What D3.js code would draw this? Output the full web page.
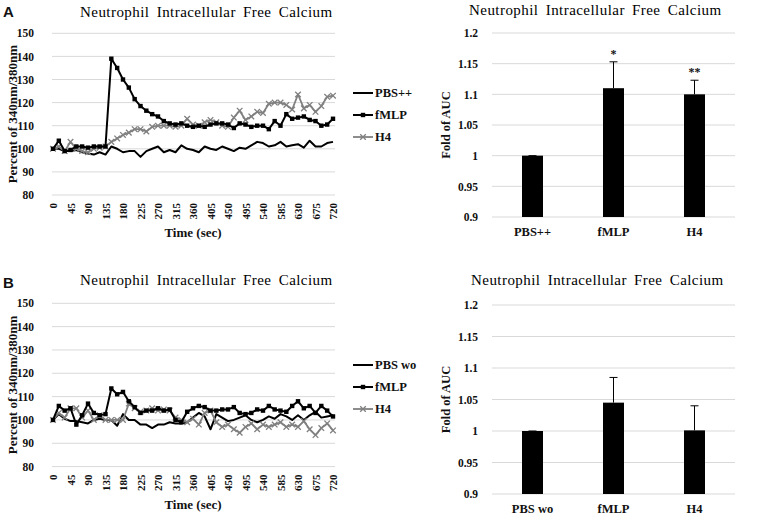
<!DOCTYPE html>
<html><head><meta charset="utf-8">
<script src="https://cdn.jsdelivr.net/npm/d3@7"></script>
<style>body{margin:0;background:#fff}svg{display:block}</style>
</head><body><svg id="c" width="763" height="519"></svg>
<script>
const times = [0,15,30,45,60,75,90,105,120,135,150,165,180,195,210,225,240,255,270,285,300,315,330,345,360,375,390,405,420,435,450,465,480,495,510,525,540,555,570,585,600,615,630,645,660,675,690,705,720];
const timeTickLabels = [0,45,90,135,180,225,270,315,360,405,450,495,540,585,630,675,720];
const lineYTicks = [80,90,100,110,120,130,140,150];

const seriesNamesA = ["PBS++","fMLP","H4"];
const pbsA  = [100,100,99,99,99.5,98.5,98,97.5,98.5,97.5,101,100,98.5,99,99,96.5,99,100,101,98.5,99.5,98.5,101.5,100,99.5,98.5,101,100,99.5,101,100,99,100.5,100,101.5,103,102.5,101,101.5,103,101,101.5,102,100.5,103.5,101,101,102.5,103];
const fmlpA = [100,103.5,99,99.5,101,101,100.5,101,101,101,139,135,130,126.5,121.5,118.5,116.5,115,114,112,111,110.5,111,110,109.5,110,109.5,110.5,111,111,110.5,109,111,110.5,109.5,110,110,108.5,112,110,115,113,113.5,114,112.5,112,110,110.5,113];
const h4A   = [100,101,99,103,100,99,98.5,100,100.5,101,103,104.5,106,107,108.5,108.5,107.5,109.5,110,110,110,109.5,110,113,110.5,110,111.5,112.5,111.5,110,109.5,113.5,116.5,112.5,114,116,115.5,119.5,120,120,119,117,123.5,117.5,119,116,118.5,122.5,123];

const seriesNamesB = ["PBS wo","fMLP","H4"];
const pbsB  = [100,102.5,100.5,99.5,99.5,99,98.5,100,100.5,100,100,97.5,102.5,100,100,98,98,96.5,98,98,99,98.5,98.5,99,101,103,101.5,96,102.5,101,99.5,100,101,102,100,99,100,101.5,100.5,102.5,101.5,100,102,100,102,103.5,101,101.5,102];
const fmlpB = [100,106,104,105,98,102,107,103,102,102.5,113.5,111,112,108,105.5,103,104,104,105,104,104.5,100,99,103.5,105,106,105.5,104,104,104.5,104.5,105.5,103,102.5,103,104.5,104,106,104.5,104,103.5,106,108,105,106,103,106,104,101.5];
const h4B   = [100,103,101,105,105,101,104,100,102,100,100,100,100,107,105,103.5,104,105,104,104.5,104,101,100,99,100.5,98,103,104,99,97,98,96,94.5,97,98.5,96,98,97,98,99,97,98,97,99.5,96,93.5,96.5,98.5,95.5];

const barYTicks = [0.9,0.95,1,1.05,1.1,1.15,1.2];
const barCatsA = ["PBS++","fMLP","H4"];
const barValsA = [1.0,1.11,1.10];
const barErrA  = [0.0,0.043,0.023];
const barSigA  = ["","*","**"];
const barCatsB = ["PBS wo","fMLP","H4"];
const barValsB = [1.0,1.045,1.001];
const barErrB  = [0.0,0.04,0.039];
const barSigB  = ["","",""];

const chartTitle = "Neutrophil Intracellular Free Calcium";
const svg = d3.select("#c");
const serif = "'Liberation Serif','Times New Roman',serif";
const GRID = "#d9d9d9";

function drawLine(o){
  const g = svg.append("g");
  const x = d3.scalePoint().domain(times).range([o.left, o.right]);
  const y = d3.scaleLinear().domain([80,150]).range([o.bottom, o.top]);
  g.selectAll("line.grid").data(lineYTicks).join("line")
    .attr("x1", o.left-1).attr("x2", o.right+2)
    .attr("y1", d=>y(d)).attr("y2", d=>y(d))
    .attr("stroke", GRID).attr("stroke-width",1);
  const ya = d3.axisLeft(y).tickValues(lineYTicks).tickSize(0).tickPadding(0);
  const yg = g.append("g").attr("transform",`translate(${o.left-19},0)`).call(ya);
  yg.select(".domain").remove();
  yg.selectAll("text").attr("font-family",serif).attr("font-weight","bold").attr("font-size","11.5px").attr("fill","#111");
  const xa = d3.axisBottom(x).tickValues(timeTickLabels).tickSize(0).tickPadding(0);
  const xg = g.append("g").attr("transform",`translate(0,${o.bottom+8})`).call(xa);
  xg.select(".domain").remove();
  xg.selectAll("text").attr("font-family",serif).attr("font-weight","bold").attr("font-size","11px").attr("fill","#111")
    .attr("transform","rotate(-90)").attr("text-anchor","end").attr("dy","0.35em").attr("dx","0").attr("y",0).attr("x",0);
  const mk = (arr)=>arr.map((v,i)=>({t:times[i],v}));
  const ln = d3.line().x(d=>x(d.t)).y(d=>y(d.v));
  const sers = [
    {name:o.names[0], data:mk(o.pbs), color:"#000", w:2, marker:null},
    {name:o.names[1], data:mk(o.fmlp), color:"#000", w:2, marker:"sq"},
    {name:o.names[2], data:mk(o.h4), color:"#808080", w:1.8, marker:"x"}
  ];
  [sers[0], sers[2], sers[1]].forEach(s=>{
    g.append("path").datum(s.data).attr("d",ln).attr("fill","none").attr("stroke",s.color).attr("stroke-width",s.w).attr("stroke-linejoin","round");
    if(s.marker==="sq"){
      g.selectAll(null).data(s.data).join("rect").attr("x",d=>x(d.t)-2.2).attr("y",d=>y(d.v)-2.2).attr("width",4.4).attr("height",4.4).attr("fill","#000");
    } else if(s.marker==="x"){
      g.selectAll(null).data(s.data).join("path").attr("d",d=>{const cx=x(d.t),cy=y(d.v),r=2.8;return `M${cx-r},${cy-r}L${cx+r},${cy+r}M${cx-r},${cy+r}L${cx+r},${cy-r}`;})
        .attr("stroke",s.color).attr("stroke-width",1.3).attr("fill","none");
    }
  });
  g.append("text").attr("x",(o.left+o.right)/2).attr("y",o.bottom+42).attr("text-anchor","middle")
    .attr("font-family",serif).attr("font-weight","bold").attr("font-size","13px").attr("fill","#111").text("Time (sec)");
  g.append("text").attr("transform",`translate(${o.left-41},${(o.top+o.bottom)/2}) rotate(-90)`).attr("text-anchor","middle").attr("dy","0.35em")
    .attr("font-family",serif).attr("font-weight","bold").attr("font-size","13px").attr("fill","#111").text("Percent of 340nm/380nm");
  g.append("text").attr("x",o.titleX).attr("y",o.titleY).attr("font-family",serif).attr("font-size","15px")
    .attr("letter-spacing","0.45px").attr("word-spacing","3px").attr("fill","#000").text(chartTitle);
  sers.forEach((s,i)=>{
    const ly = o.legY + i*22, lx0 = o.right+20, lx1 = o.right+40;
    g.append("line").attr("x1",lx0).attr("x2",lx1).attr("y1",ly).attr("y2",ly).attr("stroke",s.color).attr("stroke-width",s.w);
    const cx=(lx0+lx1)/2;
    if(s.marker==="sq") g.append("rect").attr("x",cx-2.2).attr("y",ly-2.2).attr("width",4.4).attr("height",4.4).attr("fill","#000");
    if(s.marker==="x") g.append("path").attr("d",`M${cx-2.8},${ly-2.8}L${cx+2.8},${ly+2.8}M${cx-2.8},${ly+2.8}L${cx+2.8},${ly-2.8}`).attr("stroke",s.color).attr("stroke-width",1.3);
    g.append("text").attr("x",lx1+2).attr("y",ly).attr("dy","0.35em").attr("font-family",serif).attr("font-weight","bold").attr("font-size","12.5px").attr("fill","#111").text(s.name);
  });
}

function drawBar(o){
  const g = svg.append("g");
  const x = d3.scaleBand().domain(o.cats).range([o.left,o.right]);
  const y = d3.scaleLinear().domain([0.9,1.2]).range([o.bottom,o.top]);
  g.selectAll(null).data(barYTicks).join("line")
    .attr("x1",o.left).attr("x2",o.right).attr("y1",d=>y(d)).attr("y2",d=>y(d)).attr("stroke",GRID).attr("stroke-width",1);
  const ya = d3.axisLeft(y).tickValues(barYTicks).tickFormat(d=>String(+d.toFixed(2))).tickSize(0).tickPadding(0);
  const yg = g.append("g").attr("transform",`translate(${o.left-14},0)`).call(ya);
  yg.select(".domain").remove();
  yg.selectAll("text").attr("font-family",serif).attr("font-weight","bold").attr("font-size","11.5px").attr("fill","#111");
  const xa = d3.axisBottom(x).tickSize(0).tickPadding(0);
  const xg = g.append("g").attr("transform",`translate(0,${o.bottom+10})`).call(xa);
  xg.select(".domain").remove();
  xg.selectAll("text").attr("font-family",serif).attr("font-weight","bold").attr("font-size","12.5px").attr("fill","#111");
  const bw = 21;
  const data = o.cats.map((c,i)=>({c,v:o.vals[i],e:o.errs[i],s:o.sig[i]}));
  g.selectAll(null).data(data).join("rect")
    .attr("x",d=>x(d.c)+x.bandwidth()/2-bw/2).attr("width",bw)
    .attr("y",d=>y(d.v)).attr("height",d=>y(0.9)-y(d.v)).attr("fill","#000");
  data.forEach(d=>{
    const cx = x(d.c)+x.bandwidth()/2;
    g.append("line").attr("x1",cx).attr("x2",cx).attr("y1",y(d.v)).attr("y2",y(d.v+d.e)).attr("stroke","#000").attr("stroke-width",1);
    g.append("line").attr("x1",cx-4).attr("x2",cx+4).attr("y1",y(d.v+d.e)).attr("y2",y(d.v+d.e)).attr("stroke","#000").attr("stroke-width",1);
    if(d.s) g.append("text").attr("x",cx).attr("y",y(d.v+d.e)-4).attr("text-anchor","middle")
      .attr("font-family",serif).attr("font-weight","bold").attr("font-size","12px").attr("fill","#111").text(d.s);
  });
  g.append("text").attr("transform",`translate(${o.left-46},${(o.top+o.bottom)/2}) rotate(-90)`).attr("text-anchor","middle").attr("dy","0.35em")
    .attr("font-family",serif).attr("font-weight","bold").attr("font-size","12.5px").attr("fill","#111").text("Fold of AUC");
  g.append("text").attr("x",o.titleX).attr("y",o.titleY).attr("font-family",serif).attr("font-size","15px")
    .attr("letter-spacing","0.45px").attr("word-spacing","3px").attr("fill","#000").text(chartTitle);
}

drawLine({left:53,right:333,top:33.3,bottom:195,pbs:pbsA,fmlp:fmlpA,h4:h4A,names:seriesNamesA,titleX:80,titleY:17,legY:93});
drawLine({left:53,right:333,top:303.3,bottom:466.6,pbs:pbsB,fmlp:fmlpB,h4:h4B,names:seriesNamesB,titleX:80,titleY:285,legY:365});
drawBar({left:492,right:735,top:33,bottom:217,cats:barCatsA,vals:barValsA,errs:barErrA,sig:barSigA,titleX:469,titleY:15});
drawBar({left:492,right:735,top:305,bottom:494,cats:barCatsB,vals:barValsB,errs:barErrB,sig:barSigB,titleX:471,titleY:285});

svg.append("text").attr("x",3).attr("y",17).attr("font-family","'Liberation Sans',Arial,sans-serif").attr("font-weight","bold").attr("font-size","15px").attr("fill","#111").text("A");
svg.append("text").attr("x",3).attr("y",288).attr("font-family","'Liberation Sans',Arial,sans-serif").attr("font-weight","bold").attr("font-size","15px").attr("fill","#111").text("B");
</script></body></html>
